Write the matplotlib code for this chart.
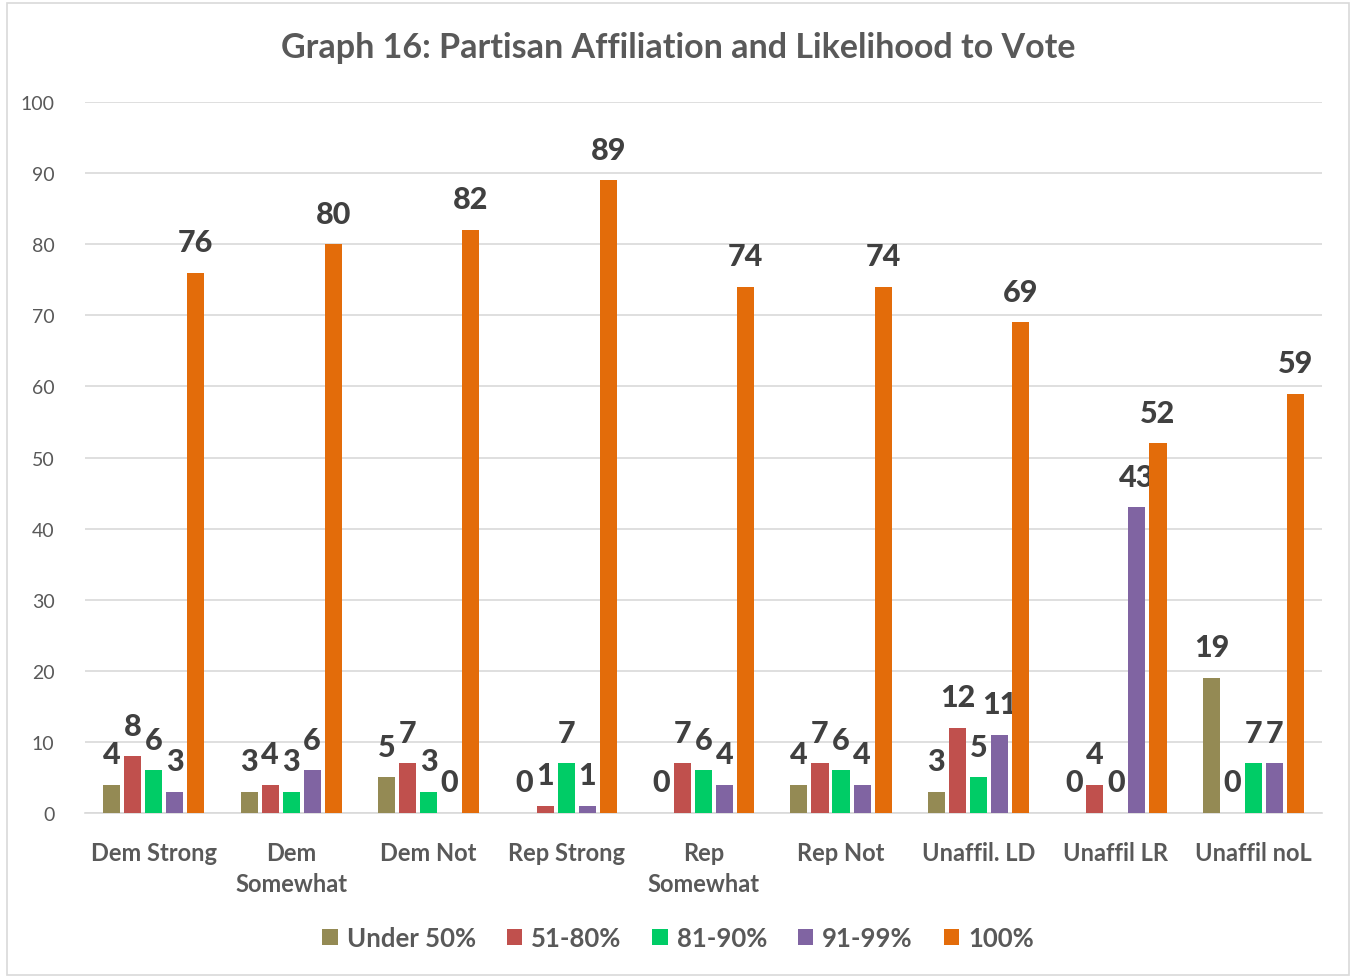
import matplotlib
matplotlib.use("Agg")
import matplotlib.pyplot as plt
from matplotlib.patches import Rectangle
import numpy as np

categories = ["Dem Strong", "Dem\nSomewhat", "Dem Not", "Rep Strong", "Rep\nSomewhat",
              "Rep Not", "Unaffil. LD", "Unaffil LR", "Unaffil noL"]
series_names = ["Under 50%", "51-80%", "81-90%", "91-99%", "100%"]
under50 = [4, 3, 5, 0, 0, 4, 3, 0, 19]
r51_80 = [8, 4, 7, 1, 7, 7, 12, 4, 0]
r81_90 = [6, 3, 3, 7, 6, 6, 5, 0, 7]
r91_99 = [3, 6, 0, 1, 4, 4, 11, 43, 7]
r100 = [76, 80, 82, 89, 74, 74, 69, 52, 59]
colors = ["#948A54", "#C0504D", "#00CC66", "#8064A2", "#E36C0A"]

plt.rcParams['font.family'] = ['Lato', 'DejaVu Sans']

fig = plt.figure(figsize=(13.56, 9.79), dpi=100)
ax = fig.add_axes([0.0627, 0.1685, 0.9123, 0.7263])

x = np.arange(len(categories))
step = 0.153
width = 0.124
all_series = [under50, r51_80, r81_90, r91_99, r100]
for i, (vals, name, c) in enumerate(zip(all_series, series_names, colors)):
    pos = x + (i - 2) * step
    ax.bar(pos, vals, width=width, color=c, label=name, zorder=3)
    for p, v in zip(pos, vals):
        ax.annotate(str(v), (p, v), xytext=(0, 22), textcoords="offset points",
                    ha="center", va="center", fontsize=22, fontweight="black", color="#404040")

ax.set_xlim(-0.5, len(categories) - 0.5)
ax.set_ylim(0, 100)
ax.set_yticks(range(0, 101, 10))
ax.yaxis.grid(True, color="#D9D9D9", linewidth=1.2, zorder=0)
ax.set_axisbelow(True)
for s in ["top", "right", "left"]:
    ax.spines[s].set_visible(False)
ax.spines["bottom"].set_color("#D9D9D9")
ax.spines["bottom"].set_linewidth(1.2)
ax.tick_params(axis="both", length=0)
ax.tick_params(axis="y", labelsize=14, labelcolor="#595959", pad=22)
ax.set_xticks(x)
ax.set_xticklabels(categories, fontsize=17, color="#595959", fontweight="bold", linespacing=1.45)
ax.tick_params(axis="x", pad=20)

fig.text(0.5, 0.951, "Graph 16: Partisan Affiliation and Likelihood to Vote", ha="center", va="center",
         fontsize=24.5, fontweight="bold", color="#595959")

leg = fig.legend(loc="center", bbox_to_anchor=(0.5, 0.041), ncol=5, frameon=False,
                 fontsize=18.5, handlelength=0.6, handleheight=0.6, columnspacing=1.2, handletextpad=0.35)
for t in leg.get_texts():
    t.set_color("#595959")
    t.set_fontweight("bold")

fig.patches.append(Rectangle((0.005, 0.003), 0.99, 0.993, transform=fig.transFigure,
                             fill=False, edgecolor="#D9D9D9", linewidth=1.2))

fig.savefig("out.png", dpi=100)
